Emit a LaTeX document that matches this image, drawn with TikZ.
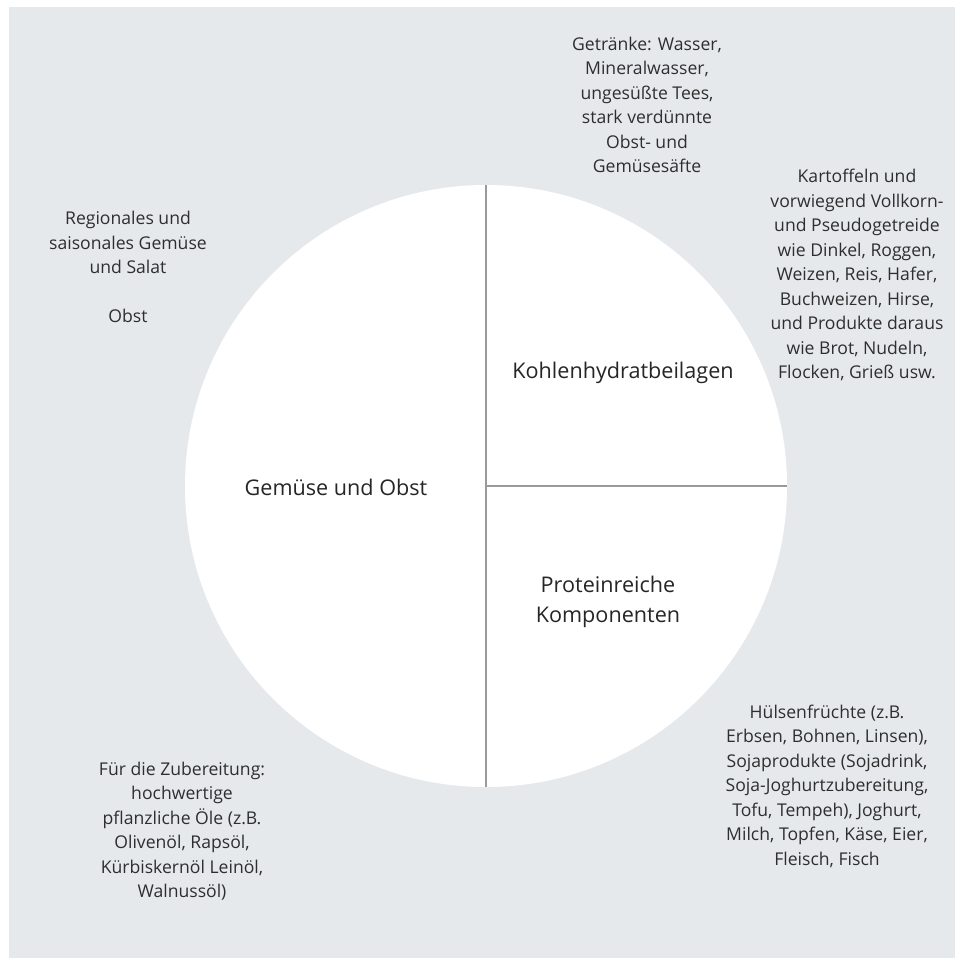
\documentclass[tikz,border=0pt]{standalone}
\usepackage{fontspec}
\setmainfont{Open Sans}
\definecolor{bggray}{HTML}{E6E9EC}
\definecolor{divgray}{HTML}{9A9A9A}
\definecolor{txtgray}{HTML}{2E2E2E}
\tikzset{
  note/.style={align=center, text=txtgray, inner sep=0pt, font=\fontsize{17.6}{24.5}\selectfont},
  part/.style={align=center, text=black!85, inner sep=0pt, font=\fontsize{21.6}{30}\selectfont}
}
\begin{document}
\begin{tikzpicture}[x=1pt,y=-1pt]
    \useasboundingbox (0,0) rectangle (955,958);
    \fill[bggray] (9,7) rectangle (955,958);

    % plate
    \node[circle, fill=white, inner sep=0pt, minimum size=602pt] (plate) at (486,486) {};
    \draw[divgray, line width=2pt] (plate.north) -- (plate.south);
    \draw[divgray, line width=2pt] (plate.center) -- (plate.east);

    \node[part] (veg) at (336,487) {Gemüse und Obst};
    \node[part] (carb) at (623,373) {Kohlenhydratbeilagen};
    \node[part] (prot) at (608,602) {Proteinreiche\\Komponenten};

    \node[note] (drinks) at (647,105) {Getränke: Wasser,\\Mineralwasser,\\ungesüßte Tees,\\stark verdünnte\\Obst- und\\Gemüsesäfte};
    \node[note] (carbnote) at (857,275) {Kartoffeln und\\vorwiegend Vollkorn-\\und Pseudogetreide\\wie Dinkel, Roggen,\\Weizen, Reis, Hafer,\\Buchweizen, Hirse,\\und Produkte daraus\\wie Brot, Nudeln,\\Flocken, Grieß usw.};
    \node[note] (vegnote) at (128,267) {Regionales und\\saisonales Gemüse\\und Salat\\[24.5pt]Obst};
    \node[note] (oilnote) at (182,831) {Für die Zubereitung:\\hochwertige\\pflanzliche Öle (z.B.\\Olivenöl, Rapsöl,\\Kürbiskernöl Leinöl,\\Walnussöl)};
    \node[note] (protnote) at (827,786) {Hülsenfrüchte (z.B.\\Erbsen, Bohnen, Linsen),\\Sojaprodukte (Sojadrink,\\Soja-Joghurtzubereitung,\\Tofu, Tempeh), Joghurt,\\Milch, Topfen, Käse, Eier,\\Fleisch, Fisch};
\end{tikzpicture}
\end{document}
